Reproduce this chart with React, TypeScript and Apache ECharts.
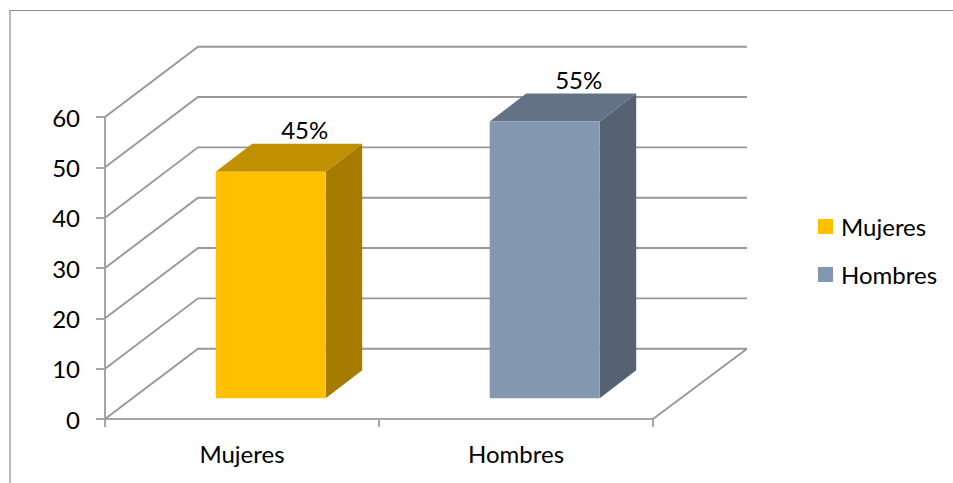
import React, { useEffect, useRef } from "react";
import * as echarts from "echarts";

const categories = ["Mujeres", "Hombres"];
const tickValues = [0, 10, 20, 30, 40, 50, 60];
const mujeresValues = [[0, 45]];
const hombresValues = [[1, 55]];

const FONT = "Lato, Carlito, 'Open Sans', sans-serif";
const FONT_SIZE = 24;
const LINE = "#989898";
const AXIS = "#a6a6a6";

// Oblique projection of the chart's box: the back wall sits this far from the front plane.
const WALL_DX = 93;
const WALL_DY = -70.3;
// Bars stand part-way into the box and have their own, shallower depth.
const BAR_SHIFT_X = 28.7;
const BAR_SHIFT_Y = -20.7;
const BAR_WIDTH = 110;
const BAR_DX = 36.5;
const BAR_DY = -28;

function renderWall(params: any, api: any) {
  const value = api.value(1);
  const box = params.coordSys;
  const y = api.coord([0, value])[1];
  const left = box.x;
  const right = box.x + box.width;
  const children: any[] = [
    {
      type: "polyline",
      shape: {
        points: [
          [left, y],
          [left + WALL_DX, y + WALL_DY],
          [right + WALL_DX + 1, y + WALL_DY],
        ],
      },
      style: { stroke: LINE, lineWidth: 1.9, fill: "none" },
    },
  ];
  if (value === 0) {
    children.push({
      type: "line",
      shape: { x1: right + WALL_DX + 1, y1: y + WALL_DY, x2: right, y2: y },
      style: { stroke: LINE, lineWidth: 1.9 },
    });
  }
  return { type: "group", children };
}

function makeBarRenderer(front: string, top: string, side: string) {
  return (_params: any, api: any) => {
    const value = api.value(1);
    const center = api.coord([api.value(0), 0]);
    const head = api.coord([api.value(0), value]);
    const x0 = center[0] + BAR_SHIFT_X - BAR_WIDTH / 2;
    const x1 = x0 + BAR_WIDTH;
    const yBase = center[1] + BAR_SHIFT_Y;
    const yTop = head[1] + BAR_SHIFT_Y;
    return {
      type: "group",
      children: [
        {
          type: "polygon",
          shape: {
            points: [
              [x1, yTop],
              [x1 + BAR_DX, yTop + BAR_DY],
              [x1 + BAR_DX, yBase + BAR_DY],
              [x1, yBase],
            ],
          },
          style: { fill: side },
        },
        {
          type: "polygon",
          shape: {
            points: [
              [x0, yTop],
              [x0 + BAR_DX, yTop + BAR_DY],
              [x1 + BAR_DX, yTop + BAR_DY],
              [x1, yTop],
            ],
          },
          style: { fill: top },
        },
        {
          type: "rect",
          shape: { x: x0, y: yTop, width: BAR_WIDTH, height: yBase - yTop },
          style: { fill: front },
        },
        {
          type: "text",
          style: {
            x: x0 + BAR_WIDTH / 2 + 34,
            y: yTop + BAR_DY - 14,
            text: `${value}%`,
            fill: "#000",
            font: `${FONT_SIZE}px ${FONT}`,
            align: "center",
            verticalAlign: "middle",
          },
        },
      ],
    };
  };
}

export default function App() {
  const ref = useRef<HTMLDivElement>(null);

  useEffect(() => {
    const chart = echarts.init(ref.current!, undefined, { renderer: "svg" });
    chart.setOption({
      animation: false,
      backgroundColor: "#fff",
      grid: { left: 105, top: 117, width: 548, height: 302 },
      legend: {
        data: ["Mujeres", "Hombres"],
        orient: "vertical",
        left: 818,
        top: 214.5,
        padding: 0,
        itemWidth: 15,
        itemHeight: 15,
        itemGap: 24,
        icon: "rect",
        selectedMode: false,
        textStyle: {
          color: "#000",
          fontFamily: FONT,
          fontSize: FONT_SIZE,
          lineHeight: 24,
          padding: [0, 0, 0, 3],
        },
      },
      xAxis: {
        type: "category",
        data: categories,
        axisLine: { lineStyle: { color: AXIS, width: 2 } },
        axisTick: { show: true, alignWithLabel: false, length: 8, lineStyle: { color: AXIS, width: 2 } },
        axisLabel: { color: "#000", fontFamily: FONT, fontSize: FONT_SIZE, margin: 22 },
      },
      yAxis: {
        type: "value",
        min: 0,
        max: 60,
        interval: 10,
        axisLine: { show: true, lineStyle: { color: AXIS, width: 2 } },
        axisTick: { show: true, length: 9, lineStyle: { color: AXIS, width: 2 } },
        axisLabel: { color: "#000", fontFamily: FONT, fontSize: FONT_SIZE, margin: 25 },
        splitLine: { show: false },
      },
      series: [
        {
          name: "wall",
          type: "custom",
          silent: true,
          z: 1,
          data: tickValues.map((v) => [0, v]),
          encode: { x: 0, y: 1 },
          renderItem: renderWall,
        },
        {
          name: "Mujeres",
          type: "custom",
          z: 3,
          itemStyle: { color: "#FFC000" },
          data: mujeresValues,
          encode: { x: 0, y: 1 },
          renderItem: makeBarRenderer("#FFC000", "#C09000", "#A67C00"),
        },
        {
          name: "Hombres",
          type: "custom",
          z: 3,
          itemStyle: { color: "#8497B0" },
          data: hombresValues,
          encode: { x: 0, y: 1 },
          renderItem: makeBarRenderer("#8497B0", "#637285", "#566272"),
        },
      ],
      graphic: [
        {
          type: "polyline",
          shape: { points: [[10, 483], [10, 10.5], [953, 10.5]] },
          style: { stroke: "#8c8c8c", lineWidth: 1.2, fill: "none" },
        },
      ],
    });
    return () => chart.dispose();
  }, []);

  return (
    <div
      ref={ref}
      style={{ position: "absolute", left: 0, top: 0, width: 953, height: 483 }}
    />
  );
}
